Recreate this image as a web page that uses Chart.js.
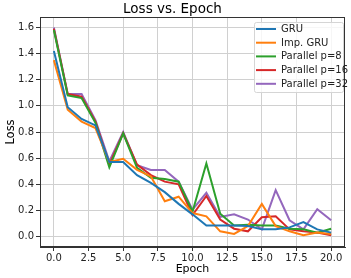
<!DOCTYPE html>
<html lang="en">
<head>
<meta charset="UTF-8">
<title>Loss vs. Epoch</title>
<script src="https://cdn.jsdelivr.net/npm/chart.js"></script>
<style>
    body { margin: 0; padding: 0; background: #fff; }
    #wrap { width: 351px; height: 278px; }
</style>
</head>
<body>
<div id="wrap"><canvas id="lossChart" width="351" height="278"></canvas></div>
<script>
    const epochs = [0, 1, 2, 3, 4, 5, 6, 7, 8, 9, 10, 11, 12, 13, 14, 15, 16, 17, 18, 19, 20];
    const gru     = [1.42, 0.99, 0.90, 0.85, 0.57, 0.57, 0.47, 0.41, 0.34, 0.25, 0.17, 0.085, 0.085, 0.085, 0.08, 0.055, 0.055, 0.07, 0.11, 0.055, 0.03];
    const impGru  = [1.35, 0.97, 0.88, 0.83, 0.57, 0.595, 0.51, 0.46, 0.27, 0.305, 0.18, 0.155, 0.04, 0.02, 0.08, 0.25, 0.08, 0.04, 0.01, 0.03, 0.02];
    const par8    = [1.58, 1.08, 1.06, 0.87, 0.53, 0.79, 0.525, 0.45, 0.44, 0.42, 0.19, 0.56, 0.175, 0.085, 0.09, 0.085, 0.085, 0.06, 0.055, 0.03, 0.06];
    const par16   = [1.59, 1.09, 1.07, 0.88, 0.55, 0.79, 0.55, 0.47, 0.42, 0.40, 0.165, 0.31, 0.13, 0.06, 0.04, 0.147, 0.155, 0.055, 0.04, 0.03, 0.01];
    const par32   = [1.60, 1.09, 1.09, 0.89, 0.575, 0.80, 0.545, 0.51, 0.51, 0.42, 0.205, 0.335, 0.15, 0.17, 0.13, 0.055, 0.355, 0.125, 0.055, 0.21, 0.125];
    const xTicks = [0, 2.5, 5, 7.5, 10, 12.5, 15, 17.5, 20];

    const FONT = 'DejaVu Sans';

    function pts(ys) {
        return ys.map((y, i) => ({ x: epochs[i], y: y }));
    }

    function series(label, ys, color) {
        return {
            label: label,
            data: pts(ys),
            borderColor: color,
            backgroundColor: color,
            borderWidth: 2,
            pointRadius: 0,
            tension: 0,
            fill: false
        };
    }

    // legend in the upper right corner plus the top/right spines
    const boxPlugin = {
        id: 'boxPlugin',
        afterDraw(chart) {
            const ctx = chart.ctx;
            const a = chart.chartArea;
            ctx.save();
            ctx.strokeStyle = '#333';
            ctx.lineWidth = 1;
            ctx.strokeRect(a.left + 0.5, a.top + 0.5, a.right - a.left - 1, a.bottom - a.top - 1);

            const bx = 254, by = 22, bw = 89, bh = 70;
            ctx.fillStyle = 'rgba(255,255,255,0.8)';
            ctx.strokeStyle = '#d5d5d5';
            ctx.beginPath();
            ctx.roundRect(bx + 0.5, by + 0.5, bw, bh, 2);
            ctx.fill();
            ctx.stroke();

            ctx.font = '10px ' + FONT;
            ctx.textBaseline = 'middle';
            chart.data.datasets.forEach((ds, i) => {
                const y = 29 + i * 13.7;
                ctx.strokeStyle = ds.borderColor;
                ctx.lineWidth = 2;
                ctx.beginPath();
                ctx.moveTo(bx + 2, y);
                ctx.lineTo(bx + 22, y);
                ctx.stroke();
                ctx.fillStyle = '#222';
                ctx.fillText(ds.label, bx + 27, y + 0.5);
            });
            ctx.restore();
        }
    };

    new Chart(document.getElementById('lossChart'), {
        type: 'line',
        data: {
            datasets: [
                series('GRU', gru, '#1f77b4'),
                series('Imp. GRU', impGru, '#ff7f0e'),
                series('Parallel p=8', par8, '#2ca02c'),
                series('Parallel p=16', par16, '#d62728'),
                series('Parallel p=32', par32, '#9467bd')
            ]
        },
        options: {
            responsive: false,
            animation: false,
            layout: { padding: { left: 0, right: 6, top: 0, bottom: 0 } },
            plugins: {
                legend: { display: false },
                tooltip: { enabled: false },
                title: {
                    display: true,
                    text: 'Loss vs. Epoch',
                    color: '#000',
                    font: { family: FONT, size: 13.5, weight: 'normal', lineHeight: 1 },
                    padding: { top: 3, bottom: 0.5 }
                }
            },
            scales: {
                x: {
                    type: 'linear',
                    min: -1,
                    max: 21,
                    afterBuildTicks: (s) => { s.ticks = xTicks.map(v => ({ value: v })); },
                    afterFit: (s) => { s.height = 31; },
                    ticks: {
                        color: '#222',
                        font: { family: FONT, size: 10 },
                        padding: 1,
                        maxRotation: 0,
                        callback: (v) => Number(v).toFixed(1)
                    },
                    grid: { color: '#d0d0d0', tickColor: '#333', tickLength: 4 },
                    border: { color: '#333' },
                    title: {
                        display: true,
                        text: 'Epoch',
                        color: '#000',
                        font: { family: FONT, size: 11 },
                        padding: { top: 0, bottom: 2 }
                    }
                },
                y: {
                    min: -0.08,
                    max: 1.68,
                    afterBuildTicks: (s) => {
                        const t = [];
                        for (let i = 0; i <= 8; i++) t.push({ value: i * 0.2 });
                        s.ticks = t;
                    },
                    afterFit: (s) => { s.width = 40; },
                    ticks: {
                        color: '#222',
                        font: { family: FONT, size: 10 },
                        padding: 2,
                        callback: (v) => Number(v).toFixed(1)
                    },
                    grid: { color: '#d0d0d0', tickColor: '#333', tickLength: 4 },
                    border: { color: '#333' },
                    title: {
                        display: true,
                        text: 'Loss',
                        color: '#000',
                        font: { family: FONT, size: 11.5 },
                        padding: { top: 4, bottom: 0 }
                    }
                }
            }
        },
        plugins: [boxPlugin]
    });
</script>
</body>
</html>
